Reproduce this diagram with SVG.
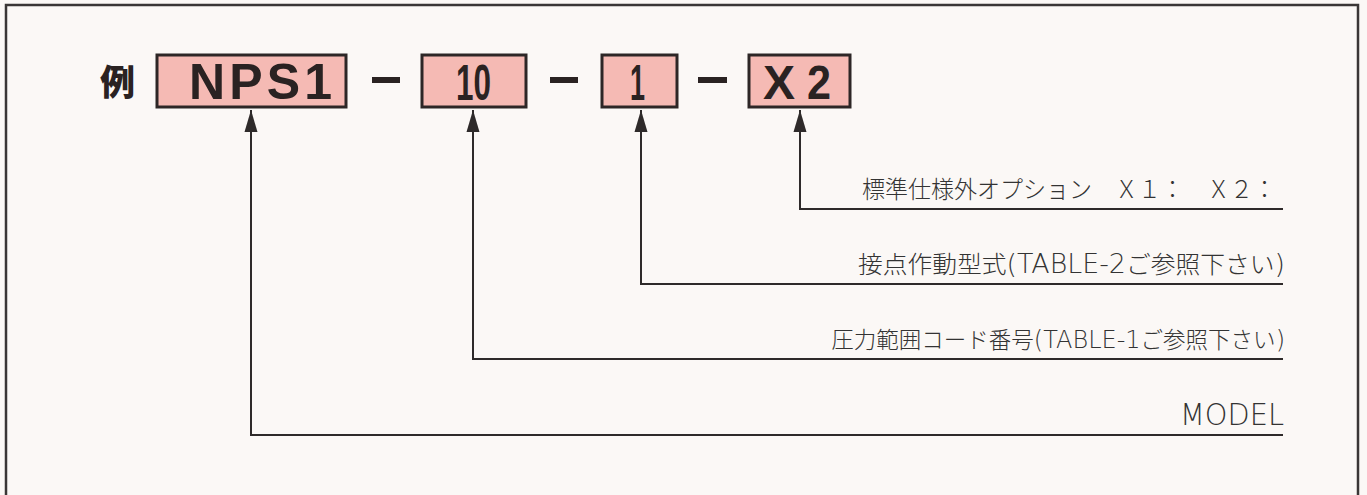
<svg xmlns="http://www.w3.org/2000/svg" width="1367" height="495" viewBox="0 0 1367 495">
<defs>
<marker id="ah" markerUnits="userSpaceOnUse" markerWidth="24" markerHeight="14" refX="22" refY="7" orient="auto" viewBox="0 0 24 14">
<path d="M0,0.5 L22,7 L0,13.5 Z" fill="#2e2a2a"/>
</marker>
<style>
.box{fill:#f5bab4;stroke:#2d2626;stroke-width:3}
.bt{font-family:"Liberation Sans",Arial,sans-serif;font-weight:bold;fill:#2a2222}
.lbl{font-family:"Noto Sans CJK JP","Noto Sans",sans-serif;font-weight:300;font-size:24px;fill:#333}
.lat{font-family:"DejaVu Sans","Noto Sans",sans-serif;font-weight:200;font-size:26px}
.ml{font-family:"DejaVu Sans","Noto Sans",sans-serif;font-weight:200;font-size:30px;fill:#333}
.con{fill:none;stroke:#2e2a2a;stroke-width:2}
.dash{fill:#2a2222}
</style>
</defs>
<rect x="0" y="0" width="1367" height="495" fill="#fbf8f6"/>
<path d="M6,500 V5 H1358 V500" fill="none" stroke="#3a3636" stroke-width="2.5"/>

<g id="example-mark">
<text x="100" y="95" style="font-family:'Noto Sans CJK JP',sans-serif;font-weight:900;font-size:35px;fill:#2a2222">例</text>
</g>

<g id="node-model">
<rect class="box" x="157" y="55" width="189" height="52"/>
<text class="bt" x="189" y="99" font-size="50" textLength="143">NPS1</text>
</g>
<g id="node-pressure">
<rect class="box" x="422" y="55" width="104" height="52"/>
<text class="bt" x="456" y="100" font-size="50" textLength="35" lengthAdjust="spacingAndGlyphs">10</text>
</g>
<g id="node-contact">
<rect class="box" x="602" y="55" width="75" height="52"/>
<text class="bt" x="630" y="100" font-size="50" textLength="15" lengthAdjust="spacingAndGlyphs">1</text>
</g>
<g id="node-option">
<rect class="box" x="749" y="55" width="101" height="52"/>
<text class="bt" y="99" font-size="48"><tspan x="763" textLength="32" lengthAdjust="spacingAndGlyphs">X</tspan><tspan x="807" textLength="24" lengthAdjust="spacingAndGlyphs">2</tspan></text>
</g>

<g id="separators">
<rect class="dash" x="372" y="77" width="28" height="6"/>
<rect class="dash" x="550" y="77" width="28" height="6"/>
<rect class="dash" x="698" y="77" width="29" height="6"/>
</g>

<g id="label-option">
<text class="lbl" x="862" y="198" textLength="414" lengthAdjust="spacingAndGlyphs">標準仕様外オプション　Ｘ１：　Ｘ２：</text>
</g>
<g id="label-contact">
<text class="lbl" x="858" y="273" textLength="427" lengthAdjust="spacingAndGlyphs">接点作動型式<tspan class="lat">(TABLE-2</tspan>ご参照下さい<tspan class="lat">)</tspan></text>
</g>
<g id="label-pressure">
<text class="lbl" x="1285" y="348" text-anchor="end" style="font-size:22.5px">圧力範囲コード番号<tspan class="lat" style="font-size:24px">(TABLE-1</tspan>ご参照下さい<tspan class="lat" style="font-size:24px">)</tspan></text>
</g>
<g id="label-model">
<text class="ml" x="1180" y="425" textLength="104" lengthAdjust="spacingAndGlyphs">MODEL</text>
</g>

<g id="connectors">
<path class="con" d="M1283,209 H800 V110" marker-end="url(#ah)"/>
<path class="con" d="M1283,284 H641 V110" marker-end="url(#ah)"/>
<path class="con" d="M1283,359 H473 V110" marker-end="url(#ah)"/>
<path class="con" d="M1283,435 H251 V110" marker-end="url(#ah)"/>
</g>
</svg>
